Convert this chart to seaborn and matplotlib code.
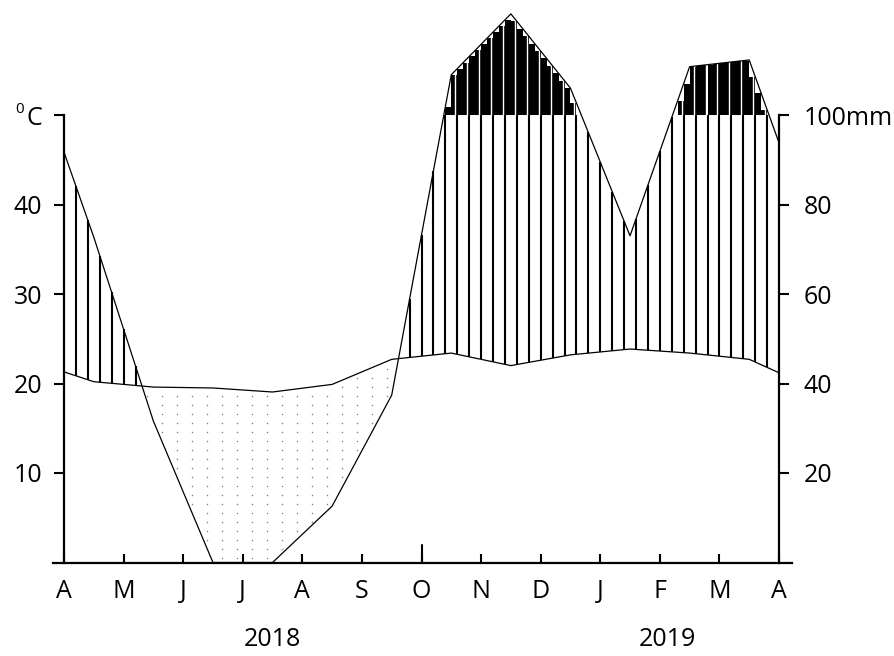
import numpy as np
import pandas as pd
import matplotlib
matplotlib.use("Agg")
import matplotlib.pyplot as plt
import seaborn as sns

# Walter-Lieth climate diagram, April 2018 - April 2019.
# Positions are in months from 1 April 2018: period edges plus mid-month points.
month_pos = [0.0, 0.5, 1.5, 2.5, 3.5, 4.5, 5.5, 6.5, 7.5, 8.5, 9.5, 10.5, 11.5, 12.0]
temperature_c = [21.3, 20.2, 19.6, 19.5, 19.05, 19.9, 22.7, 23.4, 22.0, 23.2, 23.85, 23.4, 22.7, 21.2]
precip_mm = [91.7, 72.7, 31.6, 0.0, 0.0, 12.6, 37.4, 190.0, 326.0, 160.0, 73.0, 208.0, 223.0, 93.8]

month_labels = ["A", "M", "J", "J", "A", "S", "O", "N", "D", "J", "F", "M", "A"]
year_labels = ["2018", "2019"]
year_pos = [3.5, 10.13]
temp_ticks = [10, 20, 30, 40, 50]
temp_tick_labels = ["10", "20", "30", "40", "C"]
precip_tick_labels = ["20", "40", "60", "80", "100mm"]


def precip_scale(p):
    """Map mm onto the temperature axis: 20 mm = 10 degC, reduced 1:10 above 100 mm."""
    p = np.asarray(p, dtype=float)
    return np.where(p <= 100, p / 2.0, 50.0 + (p - 100.0) / 20.0)


sns.set_theme(style="white")
plt.rcParams["font.family"] = ["Open Sans", "DejaVu Sans"]
FS = 18

fig = plt.figure(figsize=(8.94, 6.56), dpi=100)
PX_X = 715 / 12.0      # pixels per month
PX_Y = 8.95            # pixels per degC
ax = fig.add_axes([64 / 894, (656 - 562.5) / 656, 715 / 894, 562.5 / 656])
ax.set_xlim(0, 12)
ax.set_ylim(0, 562.5 / PX_Y)

df = pd.DataFrame({
    "month": month_pos,
    "temp": temperature_c,
    "prec": precip_scale(precip_mm),
})

xs_line = df["month"].to_numpy()
t_line = df["temp"].to_numpy()
p_line = df["prec"].to_numpy()

# humid period: vertical hatching between the two curves (capped at 100 mm)
hatch_x = np.arange(0.2, 12.0, 0.2)
t_h = np.interp(hatch_x, xs_line, t_line)
p_h = np.interp(hatch_x, xs_line, p_line)
wet = p_h > t_h
ax.vlines(hatch_x[wet], t_h[wet], np.minimum(p_h[wet], 50), color="black", lw=1.5)

# very wet part above 100 mm: solid black, stepped under the curve
step = 0.1
left = np.arange(0, 12, step)
top = np.minimum(np.interp(left, xs_line, p_line), np.interp(left + step, xs_line, p_line))
over = top > 50
ax.bar(left[over], top[over] - 50, bottom=50, width=step, align="edge",
       color="black", linewidth=0)
gap_x = hatch_x - 2.0 / PX_X
p_gap = np.interp(gap_x, xs_line, p_line)
gmask = p_gap > 50
ax.vlines(gap_x[gmask], 50, p_gap[gmask] + 0.5, color="white", lw=1.0)

# arid period: dotted area between precipitation (below) and temperature (above)
dx = 15.0 / PX_X
dy = 9.0 / PX_Y
gx, gy = np.meshgrid(np.arange(dx / 2, 12, dx), np.arange(dy / 2, 30, dy))
gx, gy = gx.ravel(), gy.ravel()
t_g = np.interp(gx, xs_line, t_line)
p_g = np.interp(gx, xs_line, p_line)
dry = (gy < t_g - 0.3) & (gy > p_g + 0.3)
ax.scatter(gx[dry], gy[dry], s=1.2, color="0.5", linewidths=0, zorder=2)

# the two curves
sns.lineplot(data=df, x="month", y="temp", sort=False, color="black", lw=0.9,
             ax=ax, zorder=3)
sns.lineplot(data=df, x="month", y="prec", sort=False, color="black", lw=0.9,
             ax=ax, zorder=3)

# axes frame
ax.spines["top"].set_visible(False)
for s in ["left", "right", "bottom"]:
    ax.spines[s].set_visible(True)
    ax.spines[s].set_color("black")
    ax.spines[s].set_linewidth(1.6)
ax.spines["left"].set_bounds(0, 50)
ax.spines["right"].set_bounds(0, 50)
ax.spines["bottom"].set_bounds(-11 / PX_X, 12 + 13 / PX_X)
for sp in ax.spines.values():
    sp.set_zorder(5)
    sp.set_clip_on(False)

ax.set_xlabel("")
ax.set_ylabel("")
ax.grid(False)

ax.set_yticks(temp_ticks, labels=temp_tick_labels)
ax.tick_params(axis="y", left=True, right=False, direction="out", length=7.5,
               width=1.5, pad=8, labelsize=FS, colors="black")
ax.set_xticks(range(13), labels=month_labels)
ax.tick_params(axis="x", bottom=True, direction="in", length=6.5, width=1.5,
               pad=12, labelsize=FS, colors="black")
# longer tick marking the start of October
ax.plot([6, 6], [0, 18 / PX_Y], color="black", lw=1.5, clip_on=False, zorder=5)

# raised zero of the degree-Celsius unit label
ax.annotate("0", xy=(0, 50), xycoords="data", xytext=(-44, 6),
            textcoords="offset pixels", ha="center", va="center",
            fontsize=11, color="black", annotation_clip=False)

ax2 = ax.twinx()
ax2.set_ylim(ax.get_ylim())
for sp in ax2.spines.values():
    sp.set_visible(False)
ax2.set_yticks(temp_ticks, labels=precip_tick_labels)
ax2.tick_params(axis="y", right=True, left=False, direction="out", length=7.5,
                width=1.5, pad=10, labelsize=FS, colors="black")
ax2.grid(False)

for label, xp in zip(year_labels, year_pos):
    ax.text(xp, (562.5 - 640) / PX_Y, label, ha="center", va="center",
            fontsize=FS, color="black", clip_on=False)

fig.savefig("out.png", dpi=100)
